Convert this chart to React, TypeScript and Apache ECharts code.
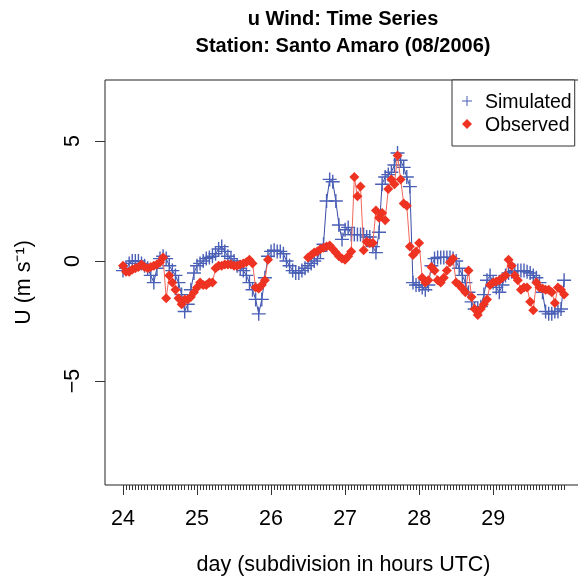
import React, { useEffect, useRef } from "react";
import * as echarts from "echarts";

const FONT = "'Liberation Sans', Arial, Helvetica, sans-serif";

const titleLines = ["u Wind: Time Series", "Station: Santo Amaro (08/2006)"];
const dayTicks = [24, 25, 26, 27, 28, 29];
const yTicks = [-5, 0, 5];
const firstDay = 24;
const hoursPerDay = 24;

// hourly values, 24 Aug 00 UTC .. 29 Aug 23 UTC
const simulated = [
  -0.4, -0.3, -0.1, 0.0, 0.0, 0.0, -0.1, -0.2, -0.3, -0.6, -0.9, -0.3, 0.1, 0.2, 0.1, -0.2, -0.4, -0.6, -0.9, -1.4, -2.1, -1.8, -1.2, -0.5,
  -0.2, -0.1, 0.0, 0.1, 0.15, 0.2, 0.3, 0.5, 0.6, 0.4, 0.2, 0.1, 0.0, -0.2, -0.3, -0.4, -0.6, -0.9, -1.2, -1.6, -2.2, -1.6, -0.7, 0.2,
  0.4, 0.45, 0.4, 0.4, 0.3, 0.0, -0.2, -0.4, -0.5, -0.5, -0.4, -0.3, -0.2, -0.1, 0.0, 0.1, 0.4, 0.7, 2.5, 3.4, 3.3, 2.5, 1.5, 0.9,
  1.3, 1.4, 1.1, 1.1, 1.1, 1.1, 1.1, 1.0, 1.0, 0.6, 0.35, 1.2, 3.2, 3.5, 3.6, 3.7, 4.0, 4.5, 4.2, 3.9, 3.5, 3.1, -0.9, -1.0,
  -1.0, -1.1, -1.2, -1.0, -0.2, 0.1, 0.15, 0.15, 0.15, 0.15, 0.15, 0.1, 0.0, -0.3, -0.6, -0.9, -1.3, -1.7, -2.0, -2.0, -1.9, -1.4, -0.8, -0.6,
  -0.9, -1.1, -1.3, -1.0, -0.6, -0.5, -0.45, -0.4, -0.4, -0.4, -0.4, -0.45, -0.5, -0.6, -0.7, -0.9, -1.3, -2.1, -2.2, -2.2, -2.1, -2.1, -2.0, -0.8,
];

const observed: (number | null)[] = [
  -0.2, -0.45, -0.45, -0.35, -0.3, -0.25, -0.15, -0.25, -0.3, -0.25, -0.2, -0.15, -0.05, 0.15, -1.55, -0.6, -0.9, -1.2, -1.55, -1.8, -1.6, -1.6, -1.5, -1.3,
  -1.1, -0.9, -1.0, -1.0, -0.9, -0.9, -0.3, -0.2, -0.2, -0.15, -0.15, -0.15, -0.2, -0.2, -0.15, -0.1, -0.05, 0.05, -0.1, -1.1, -1.15, -1.0, -0.8, 0.05,
  null, null, null, null, null, null, null, null, null, null, null, null, 0.15, 0.25, 0.35, 0.4, 0.5, 0.55, 0.6, 0.65, 0.5, 0.35, 0.2, 0.1,
  0.05, 0.2, 0.4, 3.5, 2.7, 3.1, 0.45, 0.8, 0.75, 0.75, 2.1, 1.8, 2.0, 1.7, 3.0, 3.4, 3.2, 4.4, 3.4, 2.4, 2.3, 0.6, 0.25, 0.4,
  0.75, -0.7, -0.9, -0.8, -0.25, -0.4, -0.8, -0.9, -0.7, -0.4, -0.05, 0.1, -0.9, -1.0, -1.15, -1.3, -0.4, -1.5, -2.0, -2.25, -2.0, -1.8, -1.6, -1.0,
  -0.9, -0.85, -0.8, -0.7, -0.6, 0.05, -0.2, -0.6, -0.8, -1.2, -1.1, -1.1, -1.7, -2.05, -0.9, -1.1, -1.15, -1.2, -1.2, -1.3, -1.75, -1.1, -1.2, -1.4,
];

const times = simulated.map((_, i) => firstDay + i / hoursPerDay);

const PLUS = "path://M9,0H11V9H20V11H11V20H9V11H0V9H9Z";

export default function App() {
  const ref = useRef<HTMLDivElement>(null);
  useEffect(() => {
    if (!ref.current) return;
    const chart = echarts.init(ref.current, null, { renderer: "svg" });
    const xMin = 23.757;
    const xMax = 30.2;
    const yMin = -9.33;
    const yMax = 7.54;
    chart.setOption({
      animation: false,
      textStyle: { fontFamily: FONT },
      title: {
        text: titleLines.join("\n"),
        left: 343,
        top: 4,
        padding: 0,
        textAlign: "center",
        textStyle: { fontFamily: FONT, fontWeight: "bold", fontSize: 20, lineHeight: 27, color: "#000" },
      },
      legend: {
        orient: "vertical",
        left: 452,
        top: 80,
        padding: [11, 3, 12, 10],
        itemWidth: 10,
        itemHeight: 10,
        itemGap: 3,
        borderColor: "#333",
        borderWidth: 1,
        backgroundColor: "#fff",
        textStyle: { fontFamily: FONT, fontSize: 19.5, lineHeight: 20, color: "#000", padding: [0, 0, 0, 8] },
        data: [
          { name: "Simulated", icon: PLUS },
          { name: "Observed", icon: "diamond" },
        ],
      },
      grid: {
        left: 105,
        top: 80,
        width: 477,
        height: 405,
        show: true,
        outerBoundsMode: "none",
        containLabel: false,
        borderColor: "#222",
        borderWidth: 1,
        backgroundColor: "transparent",
      },
      xAxis: [
        {
          type: "value",
          min: xMin,
          max: xMax,
          position: "bottom",
          axisLine: { show: false, onZero: false },
          splitLine: { show: false },
          axisTick: { show: true, customValues: times, length: 5, lineStyle: { color: "#333", width: 1 } },
          axisLabel: { show: false },
        },
        {
          type: "value",
          min: xMin,
          max: xMax,
          position: "bottom",
          axisLine: { show: false, onZero: false },
          splitLine: { show: false },
          axisTick: { show: true, customValues: dayTicks, length: 10, lineStyle: { color: "#333", width: 1 } },
          axisLabel: { customValues: dayTicks, fontSize: 21.5, margin: 22, color: "#000", fontFamily: FONT },
          name: "day (subdivision in hours UTC)",
          nameLocation: "middle",
          nameGap: 68,
          nameTextStyle: { fontSize: 21.5, color: "#000", fontFamily: FONT },
        },
      ],
      yAxis: {
        type: "value",
        min: yMin,
        max: yMax,
        axisLine: { show: false, onZero: false },
        splitLine: { show: false },
        axisTick: { show: true, customValues: yTicks, length: 10, lineStyle: { color: "#333", width: 1 } },
        axisLabel: {
          customValues: yTicks,
          rotate: 90,
          fontSize: 21.5,
          margin: 22,
          color: "#000",
          fontFamily: FONT,
          formatter: (v: number) => (v < 0 ? "\u2212" + Math.abs(v) : String(v)),
        },
        name: "U (m s\u207B\u00B9)",
        nameLocation: "middle",
        nameGap: 71,
        nameRotate: 90,
        nameTextStyle: { fontSize: 21.5, color: "#000", fontFamily: FONT },
      },
      series: [
        {
          name: "Simulated",
          type: "line",
          xAxisIndex: 0,
          data: times.map((t, i) => [t, simulated[i]]),
          symbol: PLUS,
          symbolSize: 14,
          itemStyle: { color: "#4A5FB6" },
          lineStyle: { color: "#3A4EA6", width: 1 },
          z: 2,
        },
        {
          name: "Observed",
          type: "line",
          xAxisIndex: 0,
          connectNulls: false,
          data: times.map((t, i) => [t, observed[i] === null ? "-" : observed[i]]),
          symbol: "diamond",
          symbolSize: 10,
          itemStyle: { color: "#EE3322" },
          lineStyle: { color: "#F0675A", width: 1 },
          z: 3,
        },
      ],
    });
    return () => chart.dispose();
  }, []);
  return <div ref={ref} style={{ position: "fixed", left: 0, top: 0, width: 578, height: 577 }} />;
}
